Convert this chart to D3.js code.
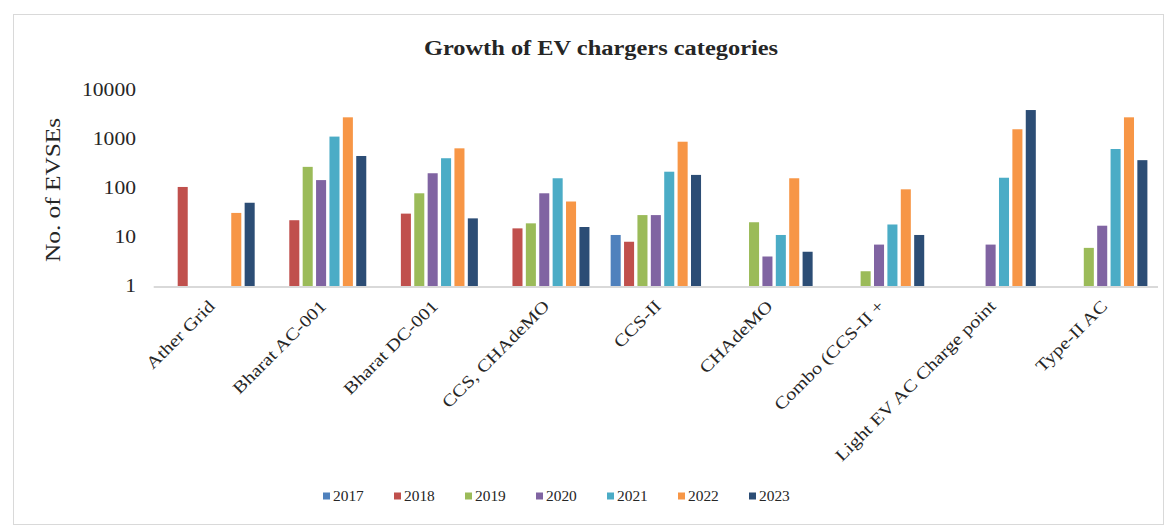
<!DOCTYPE html>
<html>
<head>
<meta charset="utf-8">
<script src="https://cdn.jsdelivr.net/npm/d3@7/dist/d3.min.js"></script>
<style>
  html, body { margin: 0; padding: 0; background: #fff; }
  svg text { font-family: "Liberation Serif", "Times New Roman", serif; fill: #262626; }
</style>
</head>
<body>
<svg id="chart" width="1174" height="531"></svg>
<script>
// Charger categories and yearly EVSE counts (null = no chargers that year)
const categories = ["Ather Grid", "Bharat AC-001", "Bharat DC-001", "CCS, CHAdeMO", "CCS-II",
  "CHAdeMO", "Combo (CCS-II +", "Light EV AC Charge point", "Type-II AC"];
const years = ["2017", "2018", "2019", "2020", "2021", "2022", "2023"];
const v2017 = [null, null, null, null, 11, null, null, null, null];
const v2018 = [105, 22, 30, 15, 8, null, null, null, null];
const v2019 = [null, 270, 78, 19, 28, 20, 2, null, 6];
const v2020 = [null, 145, 200, 78, 28, 4, 7, 7, 17];
const v2021 = [null, 1120, 405, 158, 215, 11, 18, 162, 625];
const v2022 = [31, 2770, 645, 53, 880, 158, 94, 1580, 2770];
const v2023 = [50, 450, 24, 16, 185, 5, 11, 3900, 370];
const yTicks = [1, 10, 100, 1000, 10000];

const seriesValues = [v2017, v2018, v2019, v2020, v2021, v2022, v2023];
const colors = ["#4F81BD", "#C0504D", "#9BBB59", "#8064A2", "#4BACC6", "#F79646", "#2C4D75"];

const svg = d3.select("#chart");

// stretch text along its own direction
function stretch(sel, f) {
  sel.each(function () {
    const w = this.getComputedTextLength();
    d3.select(this).attr("textLength", w * f).attr("lengthAdjust", "spacingAndGlyphs");
  });
}

// outer frame
svg.append("rect").attr("x", 13.5).attr("y", 14.5).attr("width", 1150).attr("height", 510)
  .attr("fill", "none").attr("stroke", "#d9d9d9");

const plotLeft = 153.7, plotRight = 1158, plotTop = 90, plotBottom = 286;

const x0 = d3.scaleBand().domain(categories).range([plotLeft, plotRight])
  .paddingInner(0.16).paddingOuter(0.08);
const x1 = d3.scaleBand().domain(years).range([0, x0.bandwidth()])
  .paddingInner(0.25).paddingOuter(0.125);
const y = d3.scaleLog().domain([1, 10000]).range([plotBottom, plotTop]);

// title
svg.append("text").attr("x", 601).attr("y", 55).attr("text-anchor", "middle")
  .attr("font-size", 20).attr("font-weight", "bold")
  .text("Growth of EV chargers categories").call(stretch, 1.22);

// y axis (labels only)
const yAxis = d3.axisLeft(y).tickValues(yTicks).tickFormat(d3.format("d")).tickSize(0).tickPadding(0);
const gy = svg.append("g").attr("transform", `translate(136,0)`).call(yAxis);
gy.select(".domain").remove();
gy.selectAll("text").attr("font-size", 18).attr("fill", "#262626")
  .style("font-family", '"Liberation Serif", serif').call(stretch, 1.2);

svg.append("text").attr("transform", "translate(60,190) rotate(-90)")
  .attr("text-anchor", "middle").attr("font-size", 22)
  .text("No. of EVSEs").call(stretch, 1.15);

// bars
const groups = svg.append("g").selectAll("g").data(categories).join("g")
  .attr("transform", d => `translate(${x0(d)},0)`);
groups.selectAll("rect")
  .data((c, i) => years.map((yr, k) => ({ yr, k, v: seriesValues[k][i] })).filter(d => d.v != null))
  .join("rect")
  .attr("x", d => x1(d.yr))
  .attr("width", x1.bandwidth())
  .attr("y", d => y(d.v))
  .attr("height", d => y(1) - y(d.v))
  .attr("fill", d => colors[d.k]);

// category axis
svg.append("line").attr("x1", plotLeft).attr("x2", plotRight).attr("y1", plotBottom + 1).attr("y2", plotBottom + 1)
  .attr("stroke", "#d9d9d9").attr("stroke-width", 2);
svg.append("g").selectAll("text").data(categories).join("text")
  .attr("transform", d => `translate(${x0(d) + x0.bandwidth() / 2 + 2},303) rotate(-45)`)
  .attr("text-anchor", "end").attr("dy", "0.35em").attr("font-size", 17)
  .text(d => d).call(stretch, 1.2);

// legend
const legend = svg.append("g").selectAll("g").data(years).join("g")
  .attr("transform", (d, i) => `translate(${323 + i * 71},496)`);
legend.append("rect").attr("x", 0).attr("y", -3.5).attr("width", 7).attr("height", 7)
  .attr("fill", (d, i) => colors[i]);
legend.append("text").attr("x", 10).attr("dy", "0.35em").attr("font-size", 14)
  .text(d => d).call(stretch, 1.1);
</script>
</body>
</html>
